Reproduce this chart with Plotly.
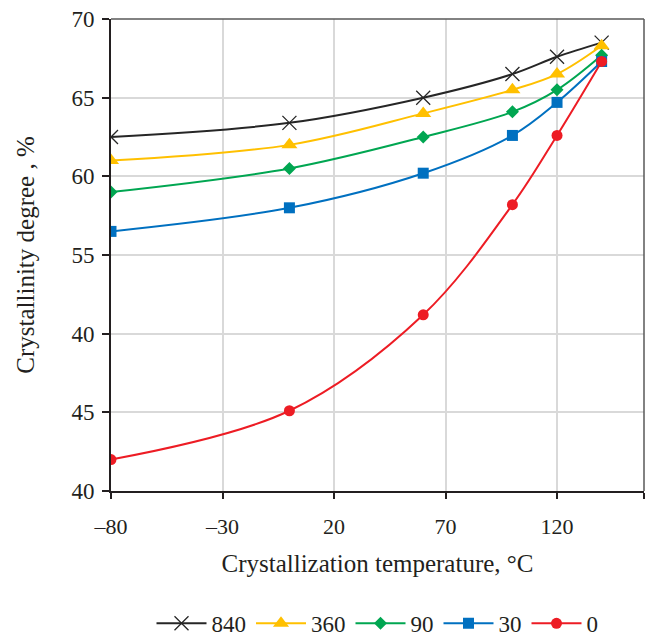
import plotly.graph_objects as go

temps = [-80, 0, 60, 100, 120, 140]
s840 = [62.5, 63.4, 65.0, 66.5, 67.6, 68.5]
s360 = [61.0, 62.0, 64.0, 65.5, 66.5, 68.3]
s90 = [59.0, 60.5, 62.5, 64.1, 65.5, 67.7]
s30 = [56.5, 58.0, 60.2, 62.6, 64.7, 67.3]
s0 = [42.0, 45.1, 51.2, 58.2, 62.6, 67.3]

names = ["840", "360", "90", "30", "0"]
values = [s840, s360, s90, s30, s0]
colors = ["#262626", "#FFC000", "#00A651", "#0070C0", "#ED1C24"]
symbols = ["x-thin", "triangle-up", "diamond", "square", "circle"]
msizes = [14, 14, 10, 11, 11]

x_tickvals = [-80, -30, 20, 70, 120, 159]
x_ticktext = ["\u201380", "\u201330", "20", "70", "120", ""]
y_tickvals = [40, 45, 50, 55, 60, 65, 70]
y_ticktext = ["40", "45", "40", "55", "60", "65", "70"]

FONT = "Liberation Serif"
TXT = "#231f20"

fig = go.Figure()
for n, v, c, s, ms in zip(names, values, colors, symbols, msizes):
    marker = dict(symbol=s, size=ms, color=c)
    if s == "x-thin":
        marker["line"] = dict(color=c, width=1.3)
    fig.add_trace(go.Scatter(
        x=temps, y=v, name=n, mode="lines+markers",
        line=dict(color=c, width=2, shape="spline", smoothing=1),
        marker=marker,
    ))

fig.update_layout(
    width=650, height=640,
    margin=dict(l=111, r=6, t=19, b=149),
    paper_bgcolor="white", plot_bgcolor="white",
    font=dict(family=FONT, size=21, color=TXT),
    showlegend=True,
    legend=dict(orientation="h", x=0.5, xanchor="center",
                yref="container", y=0.026, yanchor="middle",
                font=dict(family=FONT, size=23, color=TXT), itemwidth=50,
                bgcolor="rgba(0,0,0,0)", borderwidth=0),
    shapes=[
        dict(type="line", xref="x domain", yref="y domain", x0=0, x1=1, y0=1, y1=1,
             line=dict(color="#595959", width=1.5), layer="above"),
        dict(type="line", xref="x domain", yref="y domain", x0=1, x1=1, y0=0, y1=1,
             line=dict(color="#595959", width=1.5), layer="above"),
    ],
)

fig.update_xaxes(
    range=[-80, 159], tickmode="array", tickvals=x_tickvals, ticktext=x_ticktext,
    showgrid=True, gridcolor="#d9d9d9", gridwidth=1.5,
    showline=True, linecolor="#231f20", linewidth=2,
    ticks="outside", ticklen=6, tickwidth=1.5, tickcolor="#231f20",
    ticklabelstandoff=9,
    tickfont=dict(family=FONT, size=22, color=TXT),
    title=dict(text="Crystallization temperature, \u00b0C", standoff=16,
               font=dict(family=FONT, size=25, color=TXT)),
    zeroline=False,
)
fig.update_yaxes(
    range=[40, 70], tickmode="array", tickvals=y_tickvals, ticktext=y_ticktext,
    showgrid=True, gridcolor="#d9d9d9", gridwidth=1.5,
    showline=True, linecolor="#231f20", linewidth=2,
    ticks="outside", ticklen=7, tickwidth=1.5, tickcolor="#231f20",
    ticklabelstandoff=3,
    tickfont=dict(family=FONT, size=23, color=TXT),
    title=dict(text="Crystallinity degree , %", standoff=30,
               font=dict(family=FONT, size=25, color=TXT)),
    zeroline=False,
)

fig.write_html("out.html")
